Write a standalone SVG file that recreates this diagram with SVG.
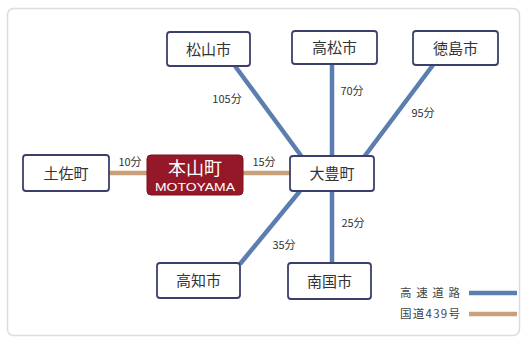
<svg xmlns="http://www.w3.org/2000/svg" width="523" height="340" viewBox="0 0 523 340">
<style>
.node rect{fill:#fff;stroke:#3b3f6b;stroke-width:1.8}
.node text{font-family:"Noto Sans CJK JP","Noto Sans",sans-serif;font-size:15px;fill:#333;text-anchor:middle}
.hw{stroke:#5b7db0;stroke-width:4.5;stroke-linecap:butt}
.nr{stroke:#c9a07a;stroke-width:4.5}
.lbl{font-family:"Noto Sans CJK JP","Noto Sans",sans-serif;font-size:11px;fill:#333;text-anchor:middle}
.leg{font-family:"Noto Sans CJK JP","Noto Sans",sans-serif;font-size:11.5px;fill:#444}
</style>
<rect x="7.5" y="8.5" width="512" height="327" rx="6" fill="#fff" stroke="#dcdcdc" stroke-width="1.5"/>
<g id="connectors">
<line class="hw" x1="235" y1="66" x2="302" y2="157"/>
<line class="hw" x1="332" y1="64" x2="332" y2="263"/>
<line class="hw" x1="433" y1="65" x2="364" y2="157"/>
<line class="hw" x1="240" y1="264" x2="300" y2="191"/>
<line class="nr" x1="109" y1="173" x2="290" y2="173"/>
<text class="lbl" x="227" y="103">105分</text>
<text class="lbl" x="352" y="95">70分</text>
<text class="lbl" x="423" y="117">95分</text>
<text class="lbl" x="130" y="166">10分</text>
<text class="lbl" x="264" y="166">15分</text>
<text class="lbl" x="353" y="227">25分</text>
<text class="lbl" x="284" y="249">35分</text>
</g>
<g id="n-matsuyama" class="node"><rect x="167" y="32" width="83" height="34" rx="3"/><text x="208.5" y="54.5">松山市</text></g>
<g id="n-takamatsu" class="node"><rect x="292" y="31" width="85" height="33" rx="3"/><text x="334.5" y="53">高松市</text></g>
<g id="n-tokushima" class="node"><rect x="413" y="31" width="85" height="34" rx="3"/><text x="455.5" y="53.5">徳島市</text></g>
<g id="n-tosa" class="node"><rect x="23" y="155" width="86" height="36" rx="3"/><text x="66" y="178.5">土佐町</text></g>
<g id="n-otoyo" class="node"><rect x="290" y="156" width="84" height="35" rx="3"/><text x="332" y="179">大豊町</text></g>
<g id="n-kochi" class="node"><rect x="157" y="263" width="83" height="35" rx="3"/><text x="198.5" y="286">高知市</text></g>
<g id="n-nankoku" class="node"><rect x="288" y="263" width="83" height="36" rx="3"/><text x="329.5" y="286.5">南国市</text></g>
<g id="n-motoyama">
<rect x="147" y="155" width="96" height="40" rx="4" fill="#951828" stroke="#7a1020" stroke-width="1"/>
<text x="195" y="175" font-family="'Noto Sans CJK JP','Noto Sans',sans-serif" font-size="18" fill="#fff" text-anchor="middle">本山町</text>
<text x="195" y="191" font-family="'Liberation Sans',Arial,sans-serif" font-size="11.5" fill="#fff" text-anchor="middle" textLength="80" lengthAdjust="spacingAndGlyphs">MOTOYAMA</text>
</g>
<g id="legend">
<text class="leg" x="400" y="297" textLength="60">高速道路</text>
<line class="hw" x1="469" y1="293" x2="517" y2="293" stroke-width="4"/>
<text class="leg" x="400" y="318" textLength="60">国道439号</text>
<line class="nr" x1="469" y1="314" x2="517" y2="314" stroke-width="4"/>
</g>
</svg>
